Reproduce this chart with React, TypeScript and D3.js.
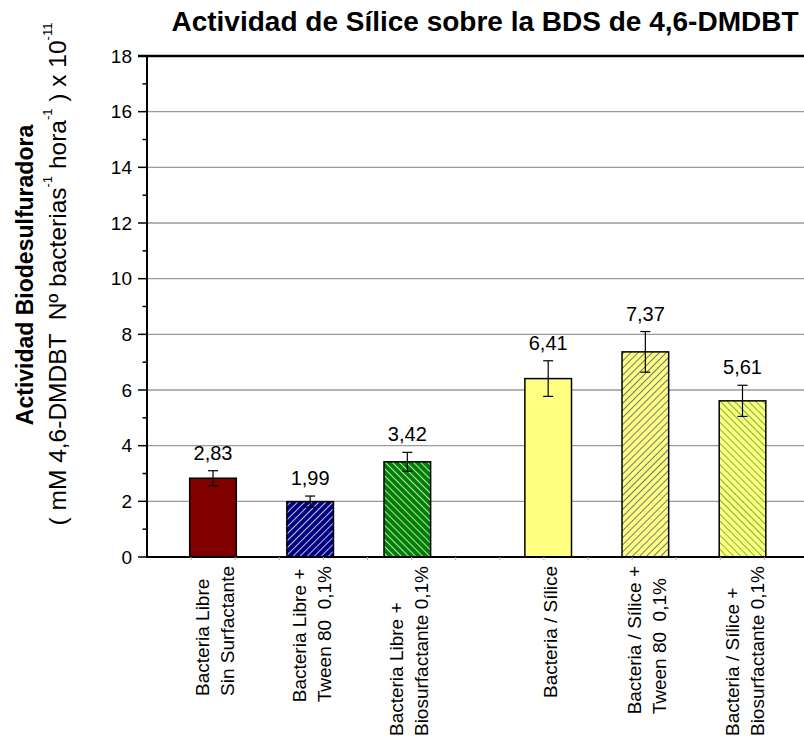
import React from "react";
import * as d3 from "d3";

const categories: string[][] = [
  ["Bacteria Libre", "Sin Surfactante"],
  ["Bacteria Libre +", "Tween 80  0,1%"],
  ["Bacteria Libre +", "Biosurfactante 0,1%"],
  ["Bacteria / Sílice"],
  ["Bacteria / Sílice +", "Tween 80  0,1%"],
  ["Bacteria / Sílice +", "Biosurfactante 0,1%"],
];
const values = [2.83, 1.99, 3.42, 6.41, 7.37, 5.61];
const errors = [0.27, 0.2, 0.34, 0.64, 0.73, 0.56];
const slots = [1, 2, 3, 4.45, 5.45, 6.45];
const fills = ["solid-red", "hatch-blue", "hatch-green", "solid-yellow", "hatch-yellow-blue", "hatch-yellow-green"];
const yTicks = [0, 2, 4, 6, 8, 10, 12, 14, 16, 18];
const yMinorTicks = [1, 3, 5, 7, 9, 11, 13, 15, 17];
const xMinorTicks = [1, 2, 3, 4, 5, 6, 7, 8, 9, 10, 11, 12, 13, 14];

const W = 804;
const H = 745;
const FONT = "'Liberation Sans', Arial, Helvetica, sans-serif";

const left = 147;
const top = 56;
const bottom = 557;

const y = d3.scaleLinear().domain([0, 18]).range([bottom, top]);
const x = d3.scaleLinear().domain([1, 6.45]).range([213, 742.5]);
const xAxisScale = d3.scaleLinear().domain([0, 15]).range([left, left + 15 * 44.1]);
const barW = x(1.48) - x(1);

const fmt = (v: number) => v.toFixed(2).replace(".", ",");

function measure(text: string, font: string): number {
  if (typeof document === "undefined") return text.length * 9;
  const c = document.createElement("canvas");
  const ctx = c.getContext("2d");
  if (!ctx) return text.length * 9;
  ctx.font = font;
  return ctx.measureText(text).width;
}

export default function App() {
  const catFont = 19;
  const lineH = 25;
  const labelTop = 566;
  return (
    <svg
      width={W}
      height={H}
      style={{ position: "absolute", left: 0, top: 0, background: "#fff" }}
      fontFamily={FONT}
    >
      <defs>
        <pattern id="hatch-blue" patternUnits="userSpaceOnUse" width={5} height={5} patternTransform="rotate(45)">
          <rect width={5} height={5} fill="#000080" />
          <line x1={0} y1={0} x2={0} y2={5} stroke="#ffffff" strokeWidth={1.5} />
        </pattern>
        <pattern id="hatch-green" patternUnits="userSpaceOnUse" width={5} height={5} patternTransform="rotate(-45)">
          <rect width={5} height={5} fill="#008000" />
          <line x1={0} y1={0} x2={0} y2={5} stroke="#ffffff" strokeWidth={1.5} />
        </pattern>
        <pattern id="hatch-yellow-blue" patternUnits="userSpaceOnUse" width={5} height={5} patternTransform="rotate(45)">
          <rect width={5} height={5} fill="#ffff80" />
          <line x1={0} y1={0} x2={0} y2={5} stroke="#000080" strokeWidth={1.1} />
        </pattern>
        <pattern id="hatch-yellow-green" patternUnits="userSpaceOnUse" width={5} height={5} patternTransform="rotate(-45)">
          <rect width={5} height={5} fill="#ffff80" />
          <line x1={0} y1={0} x2={0} y2={5} stroke="#008000" strokeWidth={1.1} />
        </pattern>
      </defs>

      {/* Title */}
      <text x={485} y={31} textAnchor="middle" fontSize={28} fontWeight="bold" fill="#000">
        Actividad de Sílice sobre la BDS de 4,6-DMDBT
      </text>

      {/* gridlines */}
      {yTicks
        .filter((t) => t > 0 && t < 18)
        .map((t) => (
          <line key={"g" + t} x1={left} x2={W} y1={y(t)} y2={y(t)} stroke="#9a9a9a" strokeWidth={1.3} />
        ))}

      {/* bars */}
      {values.map((v, i) => {
        const cx = x(slots[i]);
        const fill =
          fills[i] === "solid-red" ? "#800000" : fills[i] === "solid-yellow" ? "#ffff80" : `url(#${fills[i]})`;
        return (
          <rect
            key={"b" + i}
            x={cx - barW / 2}
            y={y(v)}
            width={barW}
            height={y(0) - y(v)}
            fill={fill}
            stroke="#000"
            strokeWidth={1.5}
          />
        );
      })}

      {/* error bars */}
      {values.map((v, i) => {
        const cx = x(slots[i]);
        const hi = y(v + errors[i]);
        const lo = y(v - errors[i]);
        return (
          <g key={"e" + i} stroke="#000" strokeWidth={1.2}>
            <line x1={cx} x2={cx} y1={hi} y2={lo} />
            <line x1={cx - 5} x2={cx + 5} y1={hi} y2={hi} />
            <line x1={cx - 5} x2={cx + 5} y1={lo} y2={lo} />
          </g>
        );
      })}

      {/* value labels */}
      {values.map((v, i) => (
        <text key={"v" + i} x={x(slots[i])} y={y(v + errors[i]) - 11} textAnchor="middle" fontSize={20} fill="#000">
          {fmt(v)}
        </text>
      ))}

      {/* axes */}
      <line x1={left - 9} x2={W} y1={top} y2={top} stroke="#000" strokeWidth={2.6} />
      <line x1={left} x2={W} y1={bottom} y2={bottom} stroke="#000" strokeWidth={2} />
      <line x1={left} x2={left} y1={top} y2={bottom + 1} stroke="#000" strokeWidth={2} />
      {yTicks.map((t) => (
        <g key={"yt" + t}>
          <line x1={left - 9} x2={left} y1={y(t)} y2={y(t)} stroke="#000" strokeWidth={1.5} />
          <text x={132} y={y(t)} textAnchor="end" dominantBaseline="central" fontSize={19} fill="#000">
            {t}
          </text>
        </g>
      ))}
      {yMinorTicks.map((t) => (
        <line key={"ym" + t} x1={left - 4.5} x2={left} y1={y(t)} y2={y(t)} stroke="#000" strokeWidth={1.5} />
      ))}
      {xMinorTicks.map((t) => (
        <line
          key={"xm" + t}
          x1={xAxisScale(t)}
          x2={xAxisScale(t)}
          y1={bottom}
          y2={bottom + 3}
          stroke="#aaa"
          strokeWidth={1}
        />
      ))}

      {/* category labels */}
      {categories.map((lines, i) => {
        const cx = x(slots[i]);
        const maxLen = Math.max(...lines.map((l) => measure(l, `${catFont}px Liberation Sans`)));
        const startY = labelTop + maxLen;
        return (
          <g key={"c" + i}>
            {lines.map((l, j) => {
              const lx = cx + 2 + (j - (lines.length - 1) / 2) * lineH;
              return (
                <text
                  key={j}
                  transform={`translate(${lx},${startY}) rotate(-90)`}
                  textAnchor="start"
                  dominantBaseline="central"
                  fontSize={catFont}
                  fill="#000"
                  style={{ whiteSpace: "pre" }}
                >
                  {l}
                </text>
              );
            })}
          </g>
        );
      })}

      {/* y axis title */}
      <text
        transform={`translate(25,275) rotate(-90)`}
        textAnchor="middle"
        dominantBaseline="central"
        fontSize={23}
        fontWeight="bold"
        fill="#000"
      >
        Actividad Biodesulfuradora
      </text>
      <text
        transform={`translate(57,274) rotate(-90)`}
        textAnchor="middle"
        dominantBaseline="central"
        fontSize={24.5}
        fill="#000"
        style={{ whiteSpace: "pre" }}
      >
        <tspan>( mM 4,6-DMDBT  Nº bacterias</tspan>
        <tspan fontSize={13} dy={-10}>-1</tspan>
        <tspan dy={10}> hora</tspan>
        <tspan fontSize={13} dy={-10}>-1</tspan>
        <tspan dy={10}> ) x 10</tspan>
        <tspan fontSize={13} dy={-10}>-11</tspan>
      </text>
    </svg>
  );
}
